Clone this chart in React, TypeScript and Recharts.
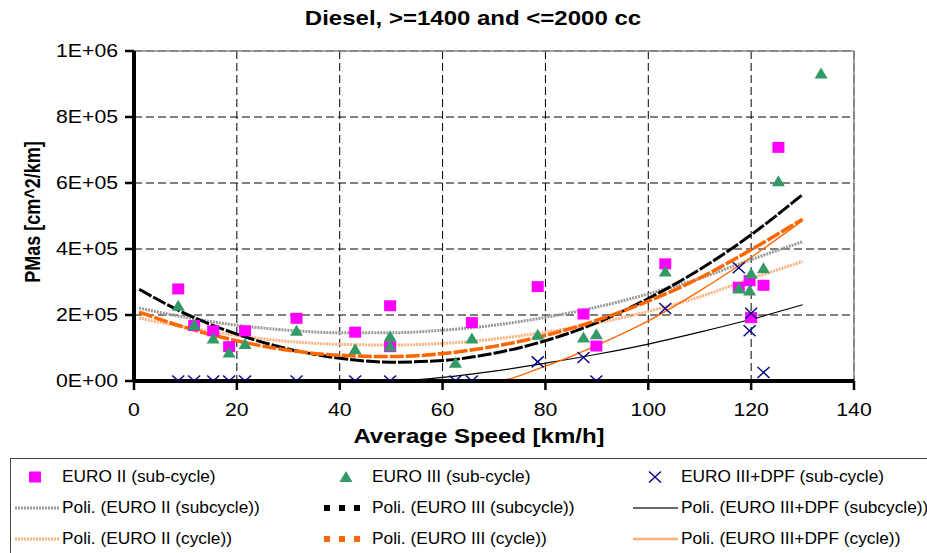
import React from 'react';
import { ComposedChart, Line, Scatter, XAxis, YAxis, CartesianGrid, ReferenceLine } from 'recharts';

// measured points (speed km/h, PMas cm^2/km)
const euro2Speed = [8.6, 11.7, 15.4, 18.5, 21.6, 31.6, 43.0, 49.8, 49.8, 65.7, 78.5, 87.4, 89.9, 103.3, 117.6, 119.7, 120.0, 122.4, 125.3];
const euro2Pm = [279000, 168000, 152000, 104000, 152000, 190000, 148000, 228000, 104000, 177000, 286000, 203000, 106000, 355000, 284000, 304000, 192000, 290000, 708000];

const euro3Speed = [8.6, 11.7, 15.4, 18.5, 21.6, 31.6, 43.0, 49.8, 49.8, 62.5, 65.7, 78.5, 87.4, 89.9, 103.3, 117.6, 119.7, 120.0, 122.4, 125.3, 133.6];
const euro3Pm = [228000, 170000, 129000, 86000, 112000, 152000, 96000, 135000, 105000, 55000, 129000, 140000, 132000, 142000, 332000, 280000, 274000, 326000, 342000, 605000, 932000];

const dpfSpeed = [8.6, 11.7, 15.4, 18.5, 21.6, 31.6, 43.0, 49.8, 62.5, 65.7, 78.5, 87.4, 89.9, 103.3, 117.6, 119.7, 120.0, 122.4];
const dpfPm = [0, 0, 0, 0, 0, 0, 0, 0, 0, 0, 58000, 71000, 0, 220000, 343000, 152000, 205000, 26000];

// polynomial trend lines
const trendSpeed = [1, 10, 20, 30, 40, 50, 60, 70, 80, 90, 100, 110, 120, 130];
const trendEuro2Sub = [221000, 193000, 169000, 154000, 146000, 146000, 154000, 169000, 193000, 224000, 264000, 311000, 368000, 422000];
const trendEuro3Sub = [278000, 204000, 142000, 97000, 69000, 57000, 62000, 84000, 122000, 177000, 250000, 338000, 443000, 565000];
const trendDpfSub = [0, 0, 0, 0, 0, 0, 11000, 30000, 54000, 81000, 112000, 148000, 187000, 231000];
const trendEuro2Cyc = [191000, 163000, 138000, 120000, 111000, 109000, 114000, 127000, 148000, 175000, 211000, 255000, 310000, 362000];
const trendEuro3Cyc = [209000, 162000, 122000, 93000, 78000, 74000, 83000, 105000, 138000, 184000, 242000, 312000, 398000, 490000];
const trendDpfCyc = [0, 0, 0, 0, 0, 0, 0, 0, 45000, 108000, 182000, 273000, 375000, 486000];

const xTicks = [0, 20, 40, 60, 80, 100, 120, 140];
const yTicks = [0, 200000, 400000, 600000, 800000, 1000000];

const legendRows = [
  ['EURO II (sub-cycle)', 'EURO III (sub-cycle)', 'EURO III+DPF (sub-cycle)'],
  ['Poli. (EURO II (subcycle))', 'Poli. (EURO III (subcycle))', 'Poli. (EURO III+DPF (subcycle))'],
  ['Poli. (EURO II (cycle))', 'Poli. (EURO III (cycle))', 'Poli. (EURO III+DPF (cycle))'],
];

const FONT = '"Liberation Sans", Arial, sans-serif';
const MAGENTA = '#FF00FF';
const GREEN = '#339966';
const NAVY = '#000080';
const ORANGE = '#FF6600';
const LIGHT_ORANGE = '#FFB07F';
const GREY = '#9a9a9a';

const pts = (xs: number[], ys: number[]) => xs.map((x, i) => ({ x, y: ys[i] }));

const sci = (v: number) => {
  if (v === 0) return '0E+00';
  const e = Math.floor(Math.log10(v));
  const m = Math.round(v / Math.pow(10, e));
  return `${m}E+${String(e).padStart(2, '0')}`;
};

const Square = ({ cx, cy }: any) => <rect x={cx - 6} y={cy - 5.5} width={12} height={11} fill={MAGENTA} />;
const Triangle = ({ cx, cy }: any) => (
  <polygon points={`${cx},${cy - 6} ${cx + 6.5},${cy + 5} ${cx - 6.5},${cy + 5}`} fill={GREEN} />
);
const Cross = ({ cx, cy }: any) => (
  <g stroke={NAVY} strokeWidth={1.4}>
    <line x1={cx - 6} y1={cy - 5.5} x2={cx + 6} y2={cy + 5.5} />
    <line x1={cx - 6} y1={cy + 5.5} x2={cx + 6} y2={cy - 5.5} />
  </g>
);

const YTick = ({ x, y, payload }: any) => (
  <text transform={`translate(${x},${y}) scale(1.18,1)`} textAnchor="end" dy="0.36em" fontSize={18} fill="#000" fontFamily={FONT}>
    {sci(payload.value)}
  </text>
);
const XTick = ({ x, payload }: any) => (
  <text transform={`translate(${x},410) scale(1.18,1)`} textAnchor="middle" dy="0.36em" fontSize={18} fill="#000" fontFamily={FONT}>
    {payload.value}
  </text>
);

const Stretch = ({ x, y, size, bold, sx = 1.2, rotate = false, children }: any) => (
  <div
    style={{
      position: 'absolute',
      left: x,
      top: y,
      fontSize: size,
      fontWeight: bold ? 'bold' : 'normal',
      lineHeight: 1,
      whiteSpace: 'nowrap',
      transform: rotate ? `translate(-50%,-50%) rotate(-90deg) scaleY(${sx})` : `translate(-50%,-50%) scaleX(${sx})`,
    }}
  >
    {children}
  </div>
);

const legendCols = [
  { marker: 35, line: 15, text: 62 },
  { marker: 346, line: 324, text: 372 },
  { marker: 655, line: 633, text: 681 },
];
const legendY = [477, 508, 539];

const LegendSample = ({ row, col }: { row: number; col: number }) => {
  const c = legendCols[col];
  const y = legendY[row];
  let svg: React.ReactNode = null;
  let left = c.line;
  if (row === 0) {
    left = c.marker - 8;
    const m = col === 0 ? <Square cx={8} cy={8} /> : col === 1 ? <Triangle cx={8} cy={8} /> : <Cross cx={8} cy={8} />;
    svg = <svg width={16} height={16}>{m}</svg>;
  } else if (col === 0) {
    svg = (
      <svg width={46} height={16}>
        <line x1={0} y1={8} x2={45} y2={8} stroke={row === 1 ? GREY : LIGHT_ORANGE} strokeWidth={3} strokeDasharray="2 1" />
      </svg>
    );
  } else if (col === 1) {
    const fill = row === 1 ? '#000' : ORANGE;
    svg = (
      <svg width={46} height={16}>
        {[0, 1, 2].map((i) => <rect key={i} x={i * 15} y={5} width={6} height={6} fill={fill} />)}
      </svg>
    );
  } else {
    svg = (
      <svg width={46} height={16}>
        <line x1={0} y1={8} x2={45} y2={8} stroke={row === 1 ? '#333' : LIGHT_ORANGE} strokeWidth={row === 1 ? 1.3 : 2.5} />
      </svg>
    );
  }
  return <div style={{ position: 'absolute', left, top: y - 8, height: 16 }}>{svg}</div>;
};

export default function App() {
  return (
    <div style={{ position: 'absolute', left: 0, top: 0, width: 927, height: 553, background: '#fff', overflow: 'hidden', fontFamily: FONT, color: '#000' }}>
      <ComposedChart width={927} height={553} margin={{ top: 51, right: 73, bottom: 142, left: 10 }}>
        <CartesianGrid stroke="#000" strokeDasharray="8 4" strokeWidth={1} />
        <ReferenceLine y={1000000} stroke="#888" strokeWidth={1.5} />
        <ReferenceLine x={140} stroke="#888" strokeWidth={1.5} />
        <Line data={pts(trendSpeed, trendEuro2Sub)} dataKey="y" type="monotone" stroke={GREY} strokeWidth={3} strokeDasharray="2 1" dot={false} isAnimationActive={false} />
        <Line data={pts(trendSpeed, trendEuro2Cyc)} dataKey="y" type="monotone" stroke={LIGHT_ORANGE} strokeWidth={3} strokeDasharray="2 1" dot={false} isAnimationActive={false} />
        <Line data={pts(trendSpeed, trendDpfSub)} dataKey="y" type="monotone" stroke="#000" strokeWidth={1.2} dot={false} isAnimationActive={false} />
        <Line data={pts(trendSpeed, trendDpfCyc)} dataKey="y" type="monotone" stroke={ORANGE} strokeWidth={1.3} dot={false} isAnimationActive={false} />
        <Line data={pts(trendSpeed, trendEuro3Sub)} dataKey="y" type="monotone" stroke="#000" strokeWidth={3} strokeDasharray="14 2" dot={false} isAnimationActive={false} />
        <Line data={pts(trendSpeed, trendEuro3Cyc)} dataKey="y" type="monotone" stroke={ORANGE} strokeWidth={3.5} strokeDasharray="14 2" dot={false} isAnimationActive={false} />
        <XAxis
          type="number"
          dataKey="x"
          domain={[0, 140]}
          ticks={xTicks}
          height={30}
          axisLine={{ stroke: '#000', strokeWidth: 4 }}
          tickLine={{ stroke: '#000', strokeWidth: 2.5 }}
          tickSize={9}
          tick={<XTick />}
          allowDataOverflow
        />
        <YAxis
          type="number"
          dataKey="y"
          domain={[0, 1000000]}
          ticks={yTicks}
          width={124}
          axisLine={{ stroke: '#000', strokeWidth: 4 }}
          tickLine={{ stroke: '#000', strokeWidth: 2.5 }}
          tickSize={9}
          tickMargin={7}
          tick={<YTick />}
          allowDataOverflow
        />
        <Scatter data={pts(euro2Speed, euro2Pm)} dataKey="y" shape={(p: any) => <Square cx={p.cx} cy={p.cy} />} isAnimationActive={false} />
        <Scatter data={pts(euro3Speed, euro3Pm)} dataKey="y" shape={(p: any) => <Triangle cx={p.cx} cy={p.cy} />} isAnimationActive={false} />
        <Scatter data={pts(dpfSpeed, dpfPm)} dataKey="y" shape={(p: any) => <Cross cx={p.cx} cy={p.cy} />} isAnimationActive={false} />
      </ComposedChart>

      <Stretch x={473} y={18} size={20} bold>Diesel, &gt;=1400 and &lt;=2000 cc</Stretch>
      <Stretch x={479} y={436} size={20} bold>Average Speed [km/h]</Stretch>
      <Stretch x={33} y={212} size={18} bold rotate>PMas [cm^2/km]</Stretch>

      <div style={{ position: 'absolute', left: 10, top: 458, width: 960, height: 140, border: '1px solid #444' }} />
      {legendRows.map((r, ri) =>
        r.map((label, ci) => (
          <React.Fragment key={`${ri}-${ci}`}>
            <LegendSample row={ri} col={ci} />
            <div
              style={{
                position: 'absolute',
                left: legendCols[ci].text,
                top: legendY[ri],
                fontSize: 16,
                lineHeight: 1,
                whiteSpace: 'nowrap',
                transform: 'translateY(-50%) scaleX(1.08)',
                transformOrigin: 'left center',
              }}
            >
              {label}
            </div>
          </React.Fragment>
        ))
      )}
    </div>
  );
}
